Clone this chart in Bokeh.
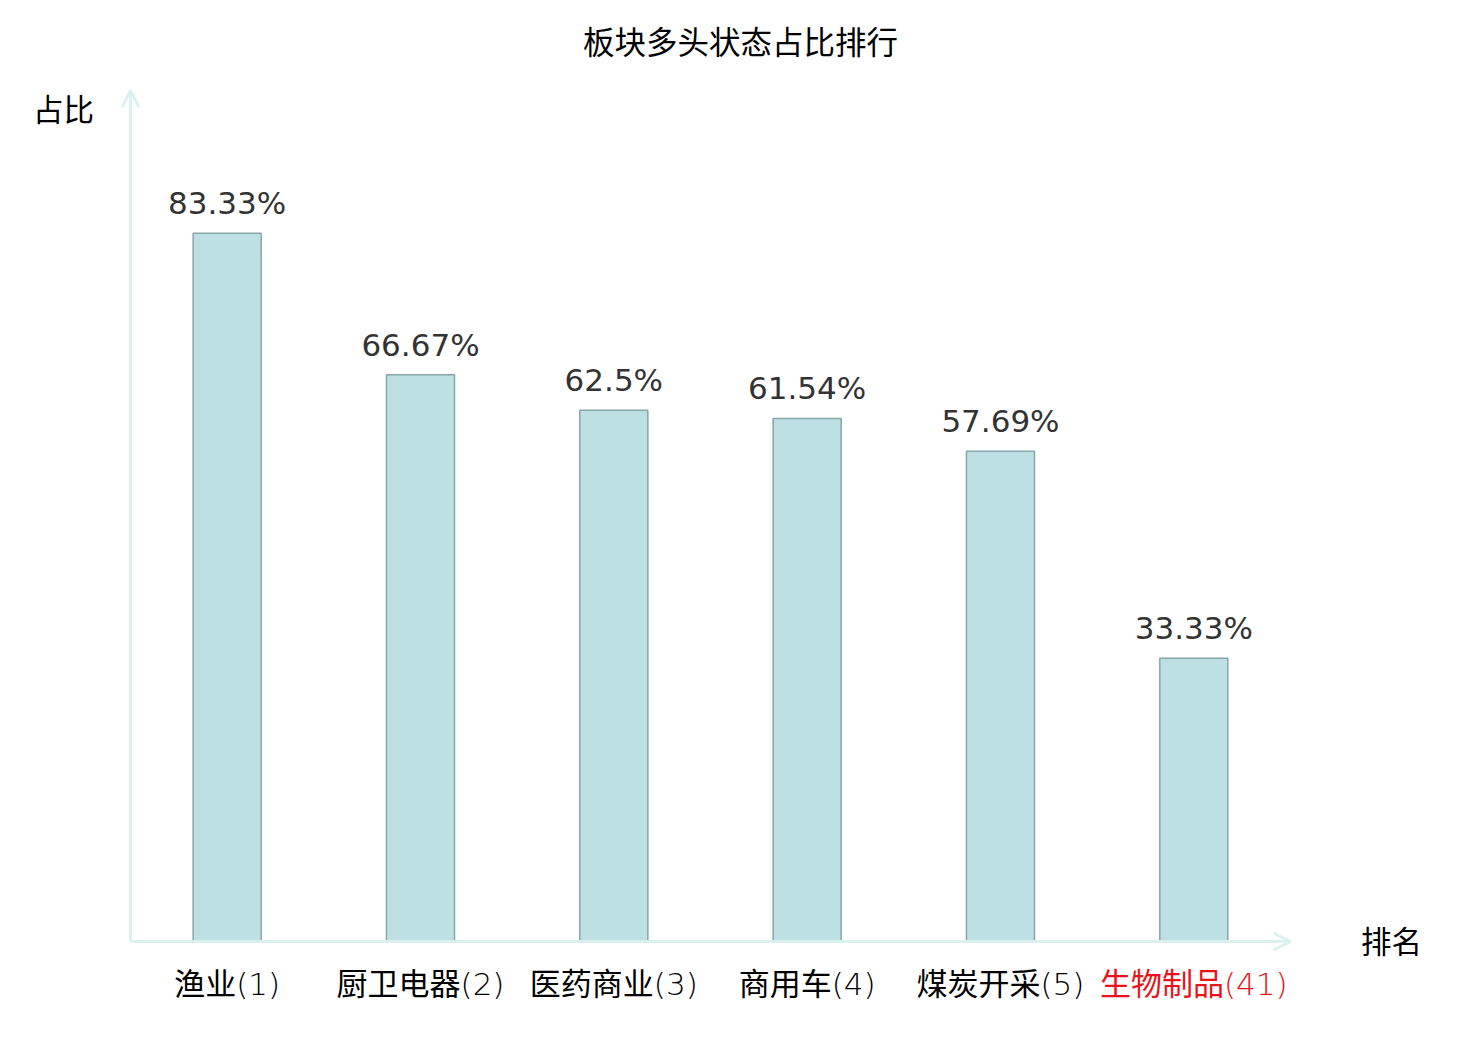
from bokeh.plotting import figure
from bokeh.models import ColumnDataSource, LabelSet, Label, Arrow, OpenHead, Range1d
from bokeh.core.properties import value
from bokeh.embed import file_html
from bokeh.resources import INLINE

categories = ["渔业", "厨卫电器", "医药商业", "商用车", "煤炭开采", "生物制品"]
ranks = [1, 2, 3, 4, 5, 41]
values = [83.33, 66.67, 62.5, 61.54, 57.69, 33.33]
label_colors = ["#000000", "#000000", "#000000", "#000000", "#000000", "#e8141b"]

# canvas / frame geometry (pixels)
W, H = 1470, 1030
X0, CAT_W = 130.0, 193.33      # pixel of x=0, pixels per category
Y0, PX_PER = 941.0, 8.5         # pixel of y=0, pixels per percent

def xd(px):
    return (px - X0) / CAT_W

def yd(py):
    return (Y0 - py) / PX_PER

CJK = "'DejaVu Sans Light', 'Noto Sans CJK SC'"

xs = [i + 0.5 for i in range(len(categories))]
src = ColumnDataSource(dict(
    x=xs,
    top=values,
    vlab=[f"{v:g}%" for v in values],
    cat=[f"{c}({r})" for c, r in zip(categories, ranks)],
    ycat=[yd(983)] * len(values),
    col=label_colors,
))

p = figure(width=W, height=H, output_backend="svg", toolbar_location=None,
           x_range=Range1d(xd(0), xd(W)), y_range=Range1d(yd(H), yd(0)),
           min_border_left=0, min_border_right=0,
           min_border_top=0, min_border_bottom=0)
p.xaxis.visible = False
p.yaxis.visible = False
p.xgrid.visible = False
p.ygrid.visible = False
p.outline_line_color = None
p.background_fill_color = "white"
p.border_fill_color = "white"

p.vbar(x="x", top="top", bottom=0, width=0.352, source=src,
       fill_color="#bce0e3", line_color="#88a6a8", line_width=1.5)

axis_col = "#dcf1ef"
p.add_layout(Arrow(x_start=0, y_start=0, x_end=0, y_end=yd(90),
                   line_color=axis_col, line_width=3,
                   end=OpenHead(size=17, line_color=axis_col, line_width=3)))
p.add_layout(Arrow(x_start=0, y_start=0, x_end=xd(1290), y_end=0,
                   line_color=axis_col, line_width=3,
                   end=OpenHead(size=17, line_color=axis_col, line_width=3)))

p.add_layout(LabelSet(x="x", y="top", text="vlab", source=src,
                      text_align="center", text_baseline="alphabetic",
                      y_offset=19, text_font=value("DejaVu Sans"),
                      text_font_size="31px", text_color="#333333"))
p.add_layout(LabelSet(x="x", y="ycat", text="cat", source=src,
                      text_align="center", text_baseline="middle",
                      text_font=value(CJK),
                      text_font_size="31px", text_color="col"))

p.add_layout(Label(x=xd(740), y=yd(39), text="板块多头状态占比排行",
                   text_align="center", text_baseline="middle",
                   text_font="Noto Sans CJK SC", text_font_size="31.5px",
                   text_color="#000000"))
p.add_layout(Label(x=xd(63), y=yd(107), text="占比",
                   text_align="center", text_baseline="middle",
                   text_font="Noto Sans CJK SC", text_font_size="30.5px",
                   text_color="#000000"))
p.add_layout(Label(x=xd(1391), y=yd(939), text="排名",
                   text_align="center", text_baseline="middle",
                   text_font="Noto Sans CJK SC", text_font_size="30.5px",
                   text_color="#000000"))

open("out.html", "w").write(file_html(p, INLINE))
